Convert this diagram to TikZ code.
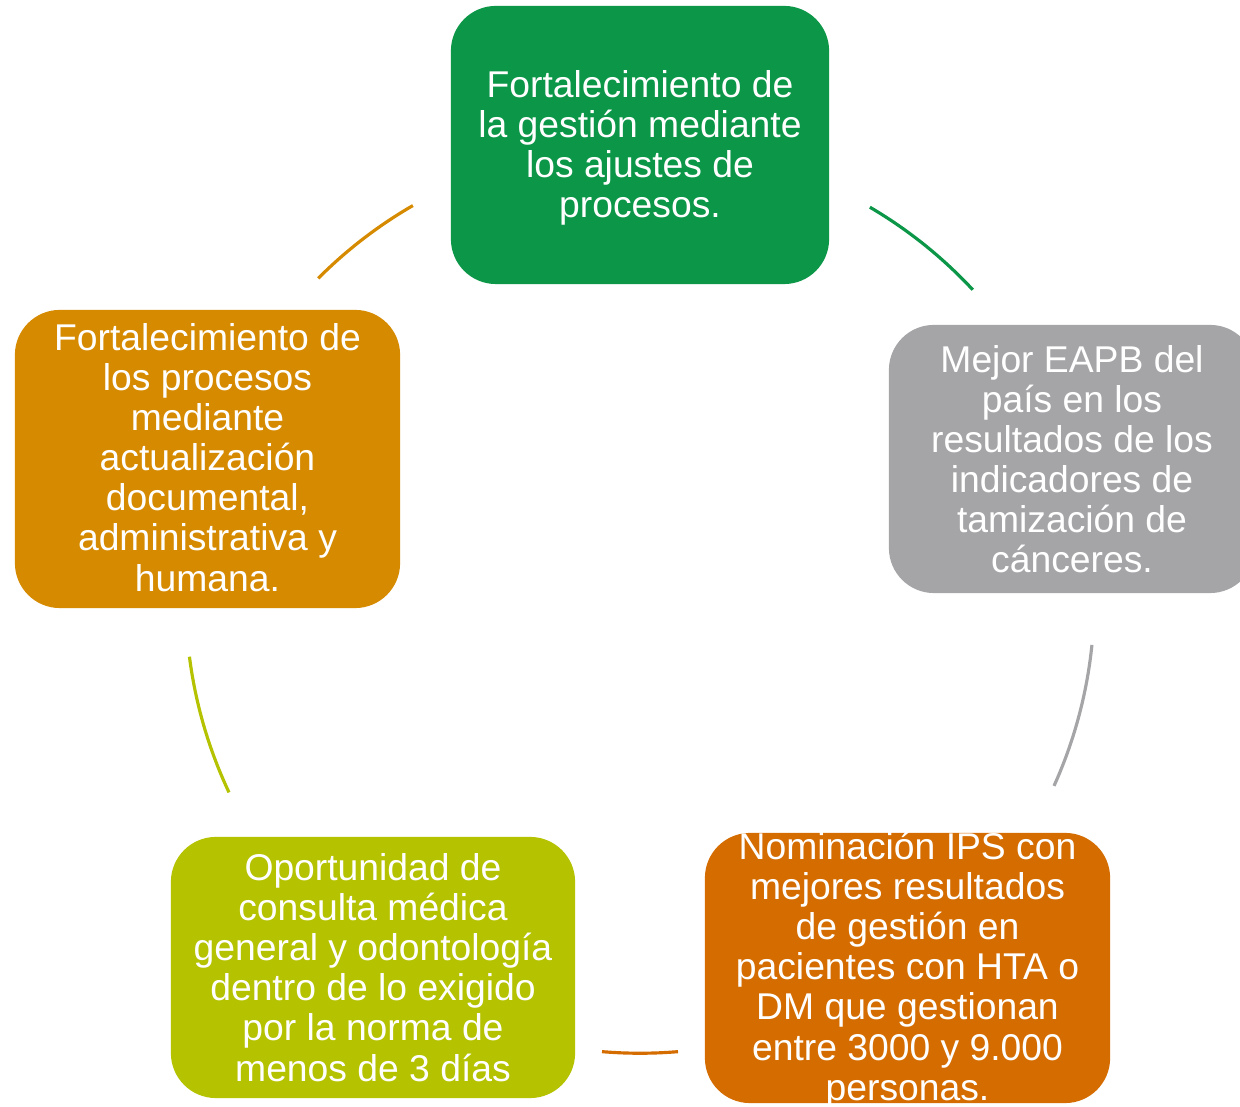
\documentclass[tikz,border=0pt]{standalone}
\usepackage{fontspec}
\setmainfont{Liberation Sans}
\usepackage{tikz}
\usetikzlibrary{positioning}

\definecolor{gestgreen}{HTML}{0B9648}
\definecolor{eapbgray}{HTML}{A5A5A8}
\definecolor{ipsorange}{HTML}{D46C00}
\definecolor{citalime}{HTML}{B5C200}
\definecolor{procamber}{HTML}{D68A00}

\tikzset{cyclebox/.style={rectangle, rounded corners=0.45cm, draw=none,
         inner sep=0pt, outer sep=0pt},
         cycletext/.style={text=white, align=center, inner sep=0pt,
         font=\fontsize{10.6}{11.4}\selectfont},
         cyclearc/.style={line width=0.9pt}}

\begin{document}
\begin{tikzpicture}[x=0.01cm, y=0.01cm]
        \clip (0,0) rectangle (1240,1107);
        \coordinate (cyc) at (640,508);

        % boxes
        \node[cyclebox, fill=gestgreen, minimum width=3.78cm, minimum height=2.78cm] (gestion) at (640,962) {};
        \node[cyclebox, fill=eapbgray, minimum width=3.66cm, minimum height=2.68cm] (eapb) at (1072,648) {};
        \node[cyclebox, fill=ipsorange, minimum width=4.05cm, minimum height=2.70cm] (ips) at (907.5,139) {};
        \node[cyclebox, fill=citalime, minimum width=4.04cm, minimum height=2.61cm] (cita) at (373,139.5) {};
        \node[cyclebox, fill=procamber, minimum width=3.85cm, minimum height=2.98cm] (procesos) at (207.5,648) {};

        % texts
        \node[cycletext] (gestiontxt) at ([yshift=-0.03cm]gestion.center) {Fortalecimiento de\\la gestión mediante\\los ajustes de\\procesos.};
        \node[cycletext] (eapbtxt) at (eapb.center) {Mejor EAPB del\\país en los\\resultados de los\\indicadores de\\tamización de\\cánceres.};
        \node[cycletext] (ipstxt) at ([yshift=-0.02cm]ips.center) {Nominación IPS con\\mejores resultados\\de gestión en\\pacientes con HTA o\\DM que gestionan\\entre 3000 y 9.000\\personas.};
        \node[cycletext] (citatxt) at (cita.center) {Oportunidad de\\consulta médica\\general y odontología\\dentro de lo exigido\\por la norma de\\menos de 3 días};
        \node[cycletext] (procesostxt) at ([yshift=0.015cm]procesos.center) {Fortalecimiento de\\los procesos\\mediante\\actualización\\documental,\\administrativa y\\humana.};

        % arcs of the cycle
        \draw[cyclearc, gestgreen] (cyc) ++(59.6:4.54cm) arc[start angle=59.6, end angle=42.9, radius=4.54cm];
        \draw[cyclearc, eapbgray] (cyc) ++(-5.8:4.54cm) arc[start angle=-5.8, end angle=-24.3, radius=4.54cm];
        \draw[cyclearc, ipsorange] (cyc) ++(-85.2:4.54cm) arc[start angle=-85.2, end angle=-94.8, radius=4.54cm];
        \draw[cyclearc, citalime] (cyc) ++(205.2:4.54cm) arc[start angle=205.2, end angle=187.3, radius=4.54cm];
        \draw[cyclearc, procamber] (cyc) ++(135.1:4.54cm) arc[start angle=135.1, end angle=120.0, radius=4.54cm];
\end{tikzpicture}
\end{document}
